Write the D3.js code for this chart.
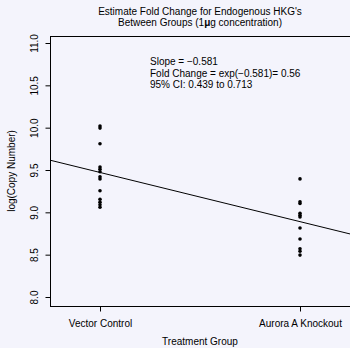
<!DOCTYPE html>
<html>
<head>
<meta charset="utf-8">
<script src="https://cdn.jsdelivr.net/npm/d3@7"></script>
<style>
  body { margin: 0; background: #f4f4fc; }
  text { font-family: "Liberation Sans", Arial, sans-serif; fill: #000; }
</style>
</head>
<body>
<div id="chart"></div>
<script>
// data
var groups = ["Vector Control", "Aurora A Knockout"];
var vectorValues = [10.02, 9.995, 9.81, 9.535, 9.51, 9.48, 9.42, 9.395, 9.255, 9.155, 9.12, 9.09, 9.06];
var auroraValues = [9.395, 9.125, 9.105, 8.99, 8.965, 8.945, 8.815, 8.685, 8.57, 8.54, 8.495];
var yTicks = [8.0, 8.5, 9.0, 9.5, 10.0, 10.5, 11.0];
var slope = -0.581;
var intercept = 10.052;
var notes = ["Slope = \u22120.581", "Fold Change = exp(\u22120.581)= 0.56", "95% CI: 0.439 to 0.713"];

var svgWidth = 350;
var svgHeight = 348;

var svg = d3.select("#chart")
  .append("svg")
  .attr("width", svgWidth)
  .attr("height", svgHeight);

var xScale = d3.scaleLinear().domain([0.75, 2.25]).range([50, 350]);
var yScale = d3.scaleLinear().domain([8, 11]).range([297, 43]);
var boxTop = 36, boxBottom = 306;

// plot box (right side runs off the page)
svg.append("rect")
  .attr("x", 50.5)
  .attr("y", boxTop + 0.5)
  .attr("width", 310)
  .attr("height", boxBottom - boxTop)
  .attr("fill", "none")
  .attr("stroke", "#000")
  .attr("stroke-width", 1);

var yAxis = d3.axisLeft(yScale)
  .tickValues(yTicks)
  .tickFormat(d3.format(".1f"))
  .tickSize(5);

var yG = svg.append("g")
  .attr("transform", "translate(50.5,0)")
  .call(yAxis);
yG.select(".domain").remove();
yG.selectAll("text")
  .attr("x", 0)
  .attr("y", 0)
  .attr("dy", 0)
  .attr("transform", "translate(-13,0) rotate(-90)")
  .attr("text-anchor", "middle")
  .style("font-size", "10px")
  .style("font-family", "Liberation Sans, Arial, sans-serif");

var xAxis = d3.axisBottom(xScale)
  .tickValues([1, 2])
  .tickFormat((d, i) => groups[i])
  .tickSize(5)
  .tickPadding(8);

var xG = svg.append("g")
  .attr("transform", "translate(0," + (boxBottom + 0.5) + ")")
  .call(xAxis);
xG.select(".domain").remove();
xG.selectAll("text")
  .style("font-size", "10px")
  .style("font-family", "Liberation Sans, Arial, sans-serif");

// fitted line
var lineData = [0.75, 2.25].map(x => [x, intercept + slope * x]);
svg.append("path")
  .datum(lineData)
  .attr("d", d3.line().x(d => xScale(d[0])).y(d => yScale(d[1])))
  .attr("stroke", "#000")
  .attr("stroke-width", 1)
  .attr("fill", "none");

var points = vectorValues.map(v => ({ x: 1, y: v }))
  .concat(auroraValues.map(v => ({ x: 2, y: v })));

svg.selectAll("circle.pt")
  .data(points)
  .enter()
  .append("circle")
  .attr("class", "pt")
  .attr("cx", d => xScale(d.x))
  .attr("cy", d => yScale(d.y))
  .attr("r", 1.8)
  .attr("fill", "#000");

// annotation
svg.selectAll("text.note")
  .data(notes)
  .enter()
  .append("text")
  .attr("class", "note")
  .attr("x", 150)
  .attr("y", (d, i) => 65 + i * 11.5)
  .style("font-size", "10px")
  .text(d => d);

// title
svg.append("text")
  .attr("x", 200)
  .attr("y", 15)
  .attr("text-anchor", "middle")
  .style("font-size", "10px")
  .text("Estimate Fold Change for Endogenous HKG's");

var title2 = svg.append("text")
  .attr("x", 200)
  .attr("y", 26)
  .attr("text-anchor", "middle")
  .style("font-size", "10px");
title2.append("tspan").text("Between Groups (1");
title2.append("tspan").style("font-weight", "bold").text("\u03bc");
title2.append("tspan").text("g concentration)");

svg.append("text")
  .attr("x", 200)
  .attr("y", 345)
  .attr("text-anchor", "middle")
  .style("font-size", "10px")
  .text("Treatment Group");

svg.append("text")
  .attr("transform", "translate(15,171) rotate(-90)")
  .attr("text-anchor", "middle")
  .style("font-size", "10px")
  .text("log(Copy Number)");
</script>
</body>
</html>
